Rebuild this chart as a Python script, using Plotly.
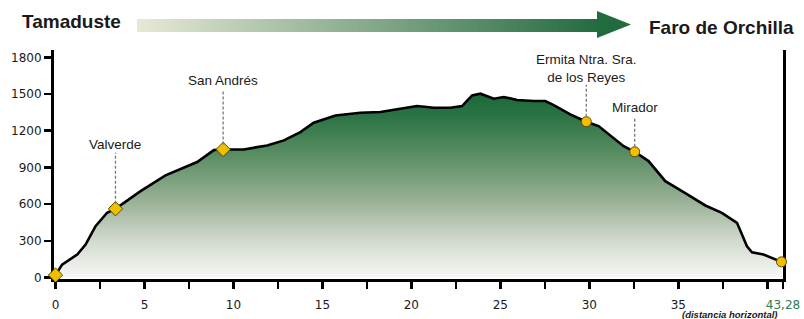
import plotly.graph_objects as go

# ---- data ----
dist_km = [0, 0.37, 1.22, 1.69, 2.25, 2.9, 3.37, 4.78, 6.18, 7.96, 8.9, 9.42, 10.58, 11.89, 12.83,
           13.76, 14.51, 15.73, 17.13, 18.26, 19.2, 20.32, 21.26, 22.19, 22.85, 23.41, 23.88, 24.63,
           25.19, 25.94, 26.87, 27.53, 28.0, 28.93, 29.83, 30.52, 31.93, 32.55, 33.33, 34.27, 35.3,
           36.52, 37.45, 38.3, 38.86, 39.14, 39.79, 40.35, 40.8]
elev_m = [20, 106, 188, 270, 420, 530, 562, 706, 835, 944, 1042, 1047, 1047, 1080, 1121,
          1189, 1266, 1325, 1347, 1353, 1375, 1402, 1388, 1388, 1402, 1489, 1503, 1462,
          1476, 1451, 1443, 1443, 1410, 1334, 1274, 1238, 1074, 1028, 952, 788, 698,
          589, 529, 447, 256, 207, 188, 153, 128]

place_names = ["Valverde", "San Andrés", "Ermita Ntra. Sra.<br>de los Reyes", "Mirador"]
place_km = [3.37, 9.42, 29.83, 32.55]
place_elev = [562, 1047, 1274, 1028]
place_symbol = ["diamond", "diamond", "circle", "circle"]

end_km = [0, 40.8]
end_elev = [20, 128]
end_symbol = ["diamond", "circle"]

start_name = "Tamaduste"
end_name = "Faro de Orchilla"
y_ticks = [0, 300, 600, 900, 1200, 1500, 1800]
x_minor = [0, 2.5, 5, 7.5, 10, 12.5, 15, 17.5, 20, 22.5, 25, 27.5, 30, 32.5, 35, 37.5, 40]
x_labels = ["0", "", "5", "", "10", "", "15", "", "20", "", "25", "", "30", "", "35", "", ""]
total_label = "43,28"
x_note = "(distancia horizontal)"

# ---- layout geometry ----
W, H = 804, 319
L, R, T, B = 54, 21, 50, 40
pw, ph = W - L - R, H - T - B
x_range = [-0.085, 40.885]
y_range = [-12, 1860]
m_per_px = (y_range[1] - y_range[0]) / ph


def px2paper(px, py):
    return (px - L) / pw, (H - B - py) / ph


TEXT = "#1a1a1a"
fig = go.Figure()

fig.add_trace(go.Scatter(
    x=dist_km, y=elev_m, mode="lines", fill="tozeroy",
    line=dict(color="#000000", width=2.6),
    fillgradient=dict(type="vertical", start=0, stop=max(elev_m),
                      colorscale=[[0, "#f7f7f5"], [0.2, "#d2dacd"], [0.42, "#98b095"],
                                  [0.68, "#578c60"], [0.88, "#2b7344"], [1, "#1a6938"]]),
    hoverinfo="skip", showlegend=False, cliponaxis=False))

all_km = place_km + end_km
all_elev = place_elev + end_elev
all_sym = place_symbol + end_symbol
for sym, fillc, linec, size in [("diamond", "#f0c000", "#5a4700", 11), ("circle", "#f2bf00", "#5e4a00", 10)]:
    xs = [k for k, s in zip(all_km, all_sym) if s == sym]
    ys = [e for e, s in zip(all_elev, all_sym) if s == sym]
    fig.add_trace(go.Scatter(x=xs, y=ys, mode="markers", cliponaxis=False,
                             marker=dict(symbol=sym, size=size, color=fillc,
                                         line=dict(color=linec, width=1)),
                             hoverinfo="skip", showlegend=False))

# labels + dashed leaders
label_off = [64, 69, 53.6, 44]
lead_top = [56, 58, 37, 35]
for name, k, e, lo, lt in zip(place_names, place_km, place_elev, label_off, lead_top):
    fig.add_shape(type="line", xref="x", yref="y", x0=k, x1=k,
                  y0=e + 5 * m_per_px, y1=e + lt * m_per_px,
                  line=dict(color="#777777", width=1.3, dash="3px,2px"))
    fig.add_annotation(x=k, y=e, xref="x", yref="y", text=name, showarrow=False,
                       yanchor="middle", yshift=lo,
                       font=dict(family="Liberation Sans, Arial", size=13.5, color=TEXT))

# top arrow with gradient bar
c0, c1 = (0xe6, 0xe8, 0xd6), (0x25, 0x6c, 0x41)
n = 92
bx0, bx1, by0, by1 = 137, 598, 19, 32
for i in range(n):
    t = i / (n - 1)
    col = "rgb(%d,%d,%d)" % tuple(round(a + (b - a) * t) for a, b in zip(c0, c1))
    xa = bx0 + (bx1 - bx0) * i / n
    xb = bx0 + (bx1 - bx0) * (i + 1) / n + 0.8
    p0 = px2paper(xa, by1)
    p1 = px2paper(xb, by0)
    fig.add_shape(type="rect", xref="paper", yref="paper", x0=p0[0], x1=p1[0], y0=p0[1], y1=p1[1],
                  fillcolor=col, line=dict(width=0), layer="above")
a1, a2, a3 = px2paper(597, 11), px2paper(631, 24.5), px2paper(597, 38)
fig.add_shape(type="path", xref="paper", yref="paper",
              path="M %f %f L %f %f L %f %f Z" % (a1[0], a1[1], a2[0], a2[1], a3[0], a3[1]),
              fillcolor="#226b3e", line=dict(width=0), layer="above")

tp = px2paper(20, 21)
fig.add_annotation(x=tp[0], y=tp[1], xref="paper", yref="paper", text="<b>%s</b>" % start_name,
                   showarrow=False, xanchor="left", yanchor="middle",
                   font=dict(family="Liberation Sans, Arial", size=19, color=TEXT))
fp = px2paper(796, 27)
fig.add_annotation(x=fp[0], y=fp[1], xref="paper", yref="paper", text="<b>%s</b>" % end_name,
                   showarrow=False, xanchor="right", yanchor="middle",
                   font=dict(family="Liberation Sans, Arial", size=19, color=TEXT))
npos = px2paper(730, 314.5)
fig.add_annotation(x=npos[0], y=npos[1], xref="paper", yref="paper", text="<b><i>%s</i></b>" % x_note,
                   showarrow=False, xanchor="center", yanchor="middle",
                   font=dict(family="Liberation Sans, Arial", size=9.5, color=TEXT))

tickvals = x_minor + [x_range[1]]
ticktext = x_labels + ['<span style="color:#2e7d4f">%s</span>' % total_label]

fig.update_layout(
    width=W, height=H, margin=dict(l=L, r=R, t=T, b=B, pad=0, autoexpand=False),
    paper_bgcolor="white", plot_bgcolor="white",
    xaxis=dict(range=x_range, tickmode="array", tickvals=tickvals, ticktext=ticktext,
               automargin=False,
               showgrid=False, zeroline=False, showline=True, linecolor="black", linewidth=3,
               ticks="outside", ticklen=7, tickwidth=2.5, tickcolor="black",
               ticklabelstandoff=6, layer="below traces",
               tickfont=dict(family="DejaVu Sans", size=12, color=TEXT)),
    yaxis=dict(range=y_range, tickmode="array", tickvals=y_ticks, automargin=False,
               showgrid=False, zeroline=False, showline=True, linecolor="black", linewidth=3,
               mirror=True, ticks="outside", ticklen=7, tickwidth=2.5, tickcolor="black",
               layer="below traces",
               tickfont=dict(family="DejaVu Sans", size=12, color=TEXT)),
)

fig.write_html("out.html", config={"displayModeBar": False, "staticPlot": True},
               post_script="document.body.style.margin='0';document.body.style.padding='0';"
                           "document.body.style.overflow='hidden';")
